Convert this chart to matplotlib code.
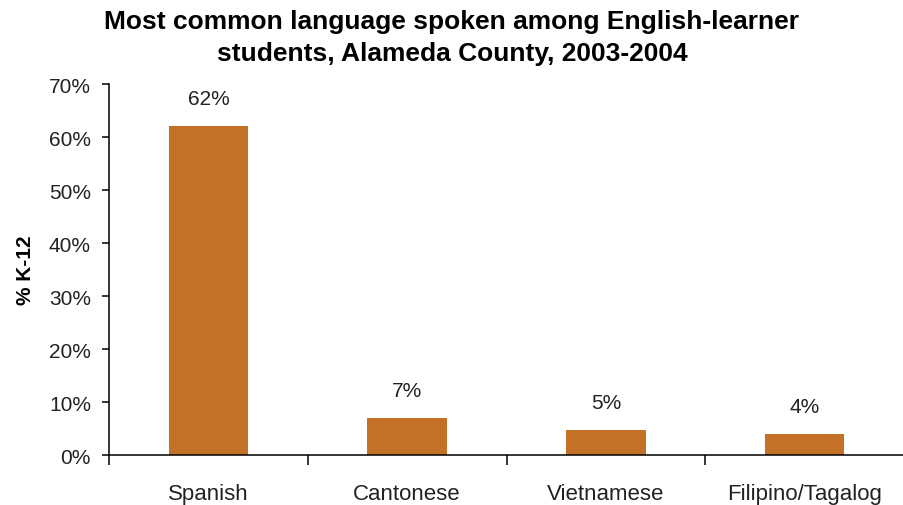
import matplotlib.pyplot as plt
import numpy as np
from matplotlib.ticker import FixedLocator

languages = ['Spanish', 'Cantonese', 'Vietnamese', 'Filipino/Tagalog']
share = [62.0, 7.0, 4.7, 3.9]
value_labels = ['62%', '7%', '5%', '4%']
y_ticks = [0, 10, 20, 30, 40, 50, 60, 70]

plt.rcParams['font.family'] = ['Liberation Sans Narrow', 'Liberation Sans', 'DejaVu Sans']
body = ['Liberation Sans', 'DejaVu Sans']

fig = plt.figure(figsize=(9.04, 5.06), dpi=100)
ax = fig.add_axes([0.1206, 0.0988, 0.8794, 0.7332])

x = np.arange(len(languages))
ax.bar(x, share, width=0.4, color='#C37127')

for xi, v, lab in zip(x, share, value_labels):
    ax.annotate(lab, (xi, v), xytext=(0, 13), textcoords='offset points',
                ha='center', va='bottom', fontsize=15, color='#222222', family=body)

ax.set_xlim(-0.5, len(languages) - 0.5)
ax.set_ylim(0, 70)
ax.set_yticks(y_ticks)
ax.set_yticklabels([f'{t}%' for t in y_ticks], family=body)

ax.set_xticks(x)
ax.set_xticklabels(languages, family=body)
ax.xaxis.set_minor_locator(FixedLocator(np.arange(len(languages) + 1) - 0.5))
ax.tick_params(axis='x', which='major', length=0, pad=20, labelsize=16, colors='#222222')
ax.tick_params(axis='x', which='minor', length=7, width=1.1, direction='out')
ax.tick_params(axis='y', length=5, width=1.1, direction='out', labelsize=15, colors='#222222', pad=8)
ax.tick_params(axis='both', which='both', color='black')

for s in ['top', 'right']:
    ax.spines[s].set_visible(False)
for s in ['left', 'bottom']:
    ax.spines[s].set_linewidth(1.1)

ax.set_ylabel('% K-12', fontsize=15, fontweight='bold', labelpad=10, family=body)

fig.text(0.5, 0.98, 'Most common language spoken among English-learner\nstudents, Alameda County, 2003-2004',
         ha='center', va='top', fontsize=19, fontweight='bold', linespacing=1.4)

fig.savefig('out.png', dpi=100)
